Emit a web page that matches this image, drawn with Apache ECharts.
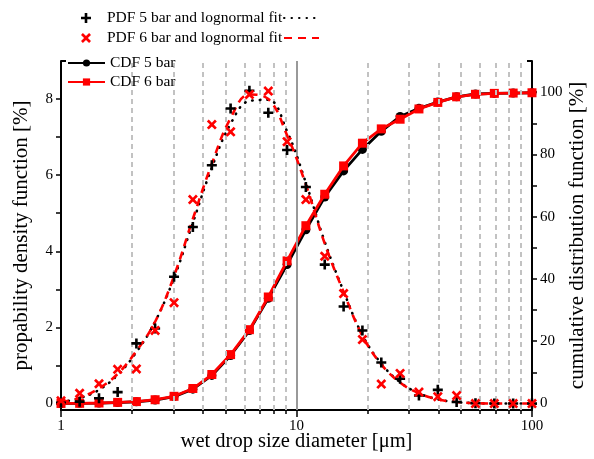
<!DOCTYPE html>
<html><head><meta charset="utf-8">
<script src="https://cdn.jsdelivr.net/npm/echarts@6/dist/echarts.min.js"></script>
<style>html,body{margin:0;padding:0;background:#fff}#c{width:594px;height:459px}</style>
</head><body><div id="c"></div>
<script>
// ---- data ----
const diameters = [1.00, 1.20, 1.45, 1.74, 2.09, 2.51, 3.02, 3.63, 4.37, 5.25, 6.31, 7.59, 9.12,
  10.96, 13.18, 15.85, 19.05, 22.91, 27.54, 33.11, 39.81, 47.86, 57.54, 69.18, 83.18, 100.0];
const pdf5 = [0.02, 0.05, 0.14, 0.30, 1.58, 1.97, 3.33, 4.64, 6.26, 7.75, 8.22, 7.64, 6.66,
  5.69, 3.65, 2.55, 1.92, 1.08, 0.65, 0.21, 0.36, 0.04, 0.01, 0.00, 0.00, 0.00];
const pdf6 = [0.07, 0.27, 0.52, 0.90, 0.91, 1.92, 2.65, 5.36, 7.33, 7.14, 8.12, 8.21, 6.88,
  5.36, 3.87, 2.89, 1.68, 0.51, 0.79, 0.30, 0.18, 0.21, 0.00, 0.00, 0.00, 0.00];
const fit5 = [0.04, 0.14, 0.36, 0.75, 1.35, 2.15, 3.30, 4.75, 6.20, 7.35, 7.95, 7.98, 7.15,
  5.80, 4.25, 2.95, 1.80, 1.05, 0.56, 0.27, 0.11, 0.04, 0.01, 0.00, 0.00, 0.00];
const fit6 = [0.03, 0.15, 0.40, 0.78, 1.38, 2.15, 3.35, 4.85, 6.30, 7.50, 8.12, 8.00, 7.05,
  5.75, 4.20, 2.93, 1.78, 1.03, 0.55, 0.27, 0.11, 0.04, 0.01, 0.00, 0.00, 0.00];
const cdf5 = [0, 0.05, 0.12, 0.30, 0.55, 1.1, 2.2, 4.6, 9.0, 15.4, 23.4, 33.8, 44.6,
  55.8, 66.3, 74.7, 81.6, 87.4, 92.2, 94.8, 96.8, 98.5, 99.4, 99.6, 99.7, 99.8];
const cdf6 = [0, 0.05, 0.15, 0.35, 0.60, 1.2, 2.3, 4.8, 9.3, 15.7, 23.7, 34.2, 45.8,
  57.1, 67.2, 76.3, 83.6, 88.2, 91.3, 94.6, 96.7, 98.5, 99.3, 99.6, 99.7, 99.8];
const xMinorTicks = [2, 3, 4, 5, 6, 7, 8, 9, 20, 30, 40, 50, 60, 70, 80, 90];
const xDashedGrid = [2, 3, 4, 5, 6, 7, 8, 9, 20, 30, 40, 50, 60, 70, 80, 90];
const xSolidGrid = [10];
const leftLabels = [0, 2, 4, 6, 8];
const leftTicks = [0, 1, 2, 3, 4, 5, 6, 7, 8];
const rightLabels = [0, 20, 40, 60, 80, 100];
const rightTicks = [0, 10, 20, 30, 40, 50, 60, 70, 80, 90, 100];
const leftMax = 9, rightMax = 110;

const font = 'Liberation Serif';
const red = '#ff0000';
const plusPath = 'path://M3.7,0H6.3V3.7H10V6.3H6.3V10H3.7V6.3H0V3.7H3.7Z';
const crossPath = 'path://M0,1.9L1.9,0L5,3.1L8.1,0L10,1.9L6.9,5L10,8.1L8.1,10L5,6.9L1.9,10L0,8.1L3.1,5Z';
const pairs = arr => diameters.map((d, i) => [d, arr[i]]);
const txt = {fontFamily: font, color: '#000'};

const chart = echarts.init(document.getElementById('c'), null, {renderer: 'canvas'});
chart.setOption({
  animation: false,
  textStyle: {fontFamily: font},
  grid: {left: 61, right: 62, top: 61, bottom: 49, outerBoundsMode: 'none', containLabel: false},
  legend: [
    {orient: 'vertical', left: 81, top: 10, padding: 0, itemWidth: 10, itemHeight: 10, itemGap: 4, z: 10,
     itemStyle: {opacity: 1},
     textStyle: Object.assign({fontSize: 15.5, lineHeight: 16, padding: [0, 0, 0, 11]}, txt),
     data: [{name: 'PDF 5 bar and lognormal fit', icon: plusPath},
            {name: 'PDF 6 bar and lognormal fit', icon: crossPath}]},
    {orient: 'vertical', left: 283, top: 10, padding: 0, itemWidth: 35, itemHeight: 10, itemGap: 4, z: 10,
     formatter: () => ' ', itemStyle: {opacity: 0},
     textStyle: Object.assign({fontSize: 15.5, lineHeight: 16}, txt),
     data: ['PDF 5 bar fit', 'PDF 6 bar fit']},
    {orient: 'vertical', left: 67, top: 55, padding: 0, itemWidth: 37, itemHeight: 9, itemGap: 3, z: 10,
     textStyle: Object.assign({fontSize: 15.5, lineHeight: 16}, txt),
     data: ['CDF 5 bar', 'CDF 6 bar']}
  ],
  xAxis: [
    {type: 'log', logBase: 10, min: 1, max: 100, position: 'bottom',
     axisLine: {onZero: false, lineStyle: {color: '#000', width: 2}},
     axisTick: {show: true, length: 7, lineStyle: {color: '#000', width: 1.5}},
     axisLabel: Object.assign({fontSize: 15, margin: 9}, txt),
     splitLine: {show: false},
     name: 'wet drop size diameter [μm]', nameLocation: 'middle', nameGap: 21, nameMoveOverlap: false,
     nameTextStyle: Object.assign({fontSize: 20.5}, txt)},
    {type: 'log', logBase: 10, min: 1, max: 100, position: 'bottom',
     axisLine: {show: false, onZero: false},
     axisTick: {show: true, length: 4, customValues: xMinorTicks, lineStyle: {color: '#000', width: 1.5}},
     axisLabel: {show: false}, splitLine: {show: false}}
  ],
  yAxis: [
    {type: 'value', min: -0.17, max: leftMax, position: 'left',
     axisLine: {show: true, onZero: false, lineStyle: {color: '#000', width: 2}},
     axisTick: {show: true, length: 5, customValues: leftTicks, lineStyle: {color: '#000', width: 1.5}},
     axisLabel: Object.assign({fontSize: 15, margin: 8, customValues: leftLabels}, txt),
     splitLine: {show: false},
     name: 'propability density function [%]', nameLocation: 'middle', nameGap: 29, nameRotate: 90,
     nameMoveOverlap: false,
     nameTextStyle: Object.assign({fontSize: 21}, txt)},
    {type: 'value', min: -2.1, max: rightMax, position: 'right',
     axisLine: {show: true, onZero: false, lineStyle: {color: '#000', width: 2}},
     axisTick: {show: true, length: 5, customValues: rightTicks, lineStyle: {color: '#000', width: 1.5}},
     axisLabel: Object.assign({fontSize: 15, margin: 8, customValues: rightLabels}, txt),
     splitLine: {show: false},
     name: 'cumulative distribution function [%]', nameLocation: 'middle', nameGap: 35, nameRotate: 90,
     nameMoveOverlap: false,
     nameTextStyle: Object.assign({fontSize: 21}, txt)},
    {type: 'value', min: -0.17, max: leftMax, position: 'left', offset: 0,
     axisLine: {show: false, onZero: false},
     axisTick: {show: true, inside: true, length: 5, customValues: [leftMax], lineStyle: {color: '#000', width: 2}},
     axisLabel: {show: false}, splitLine: {show: false}},
    {type: 'value', min: -2.1, max: rightMax, position: 'right', offset: 0,
     axisLine: {show: false, onZero: false},
     axisTick: {show: true, inside: true, length: 5, customValues: [rightMax], lineStyle: {color: '#000', width: 2}},
     axisLabel: {show: false}, splitLine: {show: false}}
  ],
  series: [
    {name: 'gridDashed', type: 'line', data: [], silent: true, z: 1,
     markLine: {symbol: 'none', silent: true, label: {show: false}, animation: false,
       lineStyle: {color: '#c2c2c2', width: 2, type: [5, 4]},
       data: xDashedGrid.map(v => ({xAxis: v}))}},
    {name: 'gridSolid', type: 'line', data: [], silent: true, z: 1,
     markLine: {symbol: 'none', silent: true, label: {show: false}, animation: false,
       lineStyle: {color: '#999999', width: 2, type: 'solid'},
       data: xSolidGrid.map(v => ({xAxis: v}))}},
    {name: 'CDF 5 bar', type: 'line', yAxisIndex: 1, data: pairs(cdf5), symbol: 'circle', symbolSize: 9,
     lineStyle: {color: '#000', width: 2.8}, itemStyle: {color: '#000'}, z: 3},
    {name: 'CDF 6 bar', type: 'line', yAxisIndex: 1, data: pairs(cdf6), symbol: 'rect', symbolSize: 9,
     lineStyle: {color: red, width: 2.8}, itemStyle: {color: red}, z: 4},
    {name: 'PDF 5 bar fit', type: 'line', data: pairs(fit5), smooth: 0.4, symbol: 'none',
     lineStyle: {color: '#000', width: 2.6, type: [0.5, 7], cap: 'round'}, itemStyle: {color: '#000'}, z: 5},
    {name: 'PDF 6 bar fit', type: 'line', data: pairs(fit6), smooth: 0.4, symbol: 'none',
     lineStyle: {color: red, width: 2.6, type: [8, 6]}, itemStyle: {color: red}, z: 6},
    {name: 'PDF 5 bar and lognormal fit', type: 'scatter', data: pairs(pdf5), symbol: plusPath, symbolSize: 10,
     itemStyle: {color: '#000', opacity: 1}, z: 7},
    {name: 'PDF 6 bar and lognormal fit', type: 'scatter', data: pairs(pdf6), symbol: crossPath, symbolSize: 10,
     itemStyle: {color: red, opacity: 1}, z: 8}
  ]
});
</script>
</body></html>
